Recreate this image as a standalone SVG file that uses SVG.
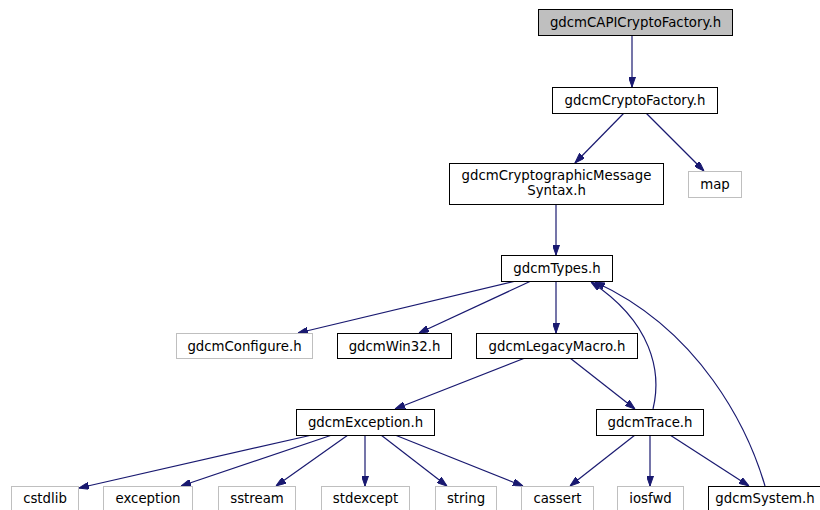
<svg xmlns="http://www.w3.org/2000/svg" width="820" height="510" viewBox="0 0 820 510">
<style>
text{font-family:"DejaVu Sans",sans-serif;font-size:13.3px;fill:#000;text-anchor:middle}
.n rect{fill:#fff;stroke:#000;stroke-width:1}
.g rect{fill:#fff;stroke:#bfbfbf;stroke-width:1}
.root rect{fill:#bfbfbf;stroke:#000;stroke-width:1}
.e path{fill:none;stroke:#191970;stroke-width:1.2;marker-end:url(#a)}
</style>
<defs>
<marker id="a" viewBox="0 0 10 7" refX="10" refY="3.5" markerWidth="10" markerHeight="7" markerUnits="userSpaceOnUse" orient="auto">
<path d="M0,0 L10,3.5 L0,7 z" fill="#191970" stroke="#191970"/>
</marker>
</defs>
<rect width="820" height="510" fill="#fff"/>
<g class="e" id="edges">
<path d="M632,35 L632,87"/>
<path d="M624,113 L575,163"/>
<path d="M646,113 L704,171"/>
<path d="M556,204 L556,255"/>
<path d="M516,281 L298,333"/>
<path d="M531,281 L419,333"/>
<path d="M556,281 L556,333"/>
<path d="M525,358 L395,409"/>
<path d="M570,358 L635,409"/>
<path d="M653,409 C662,372 652,322 591,282"/>
<path d="M765,486 C748,428 700,330 595,282"/>
<path d="M312,435 L79,488"/>
<path d="M332,435 L181,486"/>
<path d="M348,435 L276,486"/>
<path d="M365,435 L365,486"/>
<path d="M381,435 L447,486"/>
<path d="M395,435 L523,486"/>
<path d="M635,435 L570,486"/>
<path d="M650,435 L650,486"/>
<path d="M670,435 L749,486"/>
</g>
<g class="root" id="n1"><rect x="538.5" y="9.5" width="194" height="26"/><text x="635.5" y="27">gdcmCAPICryptoFactory.h</text></g>
<g class="n" id="n2"><rect x="552.5" y="87.5" width="165" height="26"/><text x="635" y="105">gdcmCryptoFactory.h</text></g>
<g class="n" id="n3"><rect x="449.5" y="163.5" width="214" height="41"/><text x="556.5" y="180">gdcmCryptographicMessage</text><text x="556.5" y="195">Syntax.h</text></g>
<g class="g" id="n4"><rect x="688.5" y="171.5" width="53" height="26"/><text x="715" y="189">map</text></g>
<g class="n" id="n5"><rect x="501.5" y="255.5" width="111" height="26"/><text x="557" y="273">gdcmTypes.h</text></g>
<g class="g" id="n6"><rect x="176.5" y="333.5" width="136" height="25"/><text x="244.5" y="350.5">gdcmConfigure.h</text></g>
<g class="n" id="n7"><rect x="337.5" y="333.5" width="114" height="25"/><text x="394.5" y="350.5">gdcmWin32.h</text></g>
<g class="n" id="n8"><rect x="476.5" y="333.5" width="161" height="25"/><text x="557" y="350.5">gdcmLegacyMacro.h</text></g>
<g class="n" id="n9"><rect x="296.5" y="409.5" width="138" height="26"/><text x="365.5" y="427">gdcmException.h</text></g>
<g class="n" id="n10"><rect x="596.5" y="409.5" width="107" height="26"/><text x="650" y="427">gdcmTrace.h</text></g>
<g class="g" id="n11"><rect x="11.5" y="486.5" width="67" height="26"/><text x="45" y="503">cstdlib</text></g>
<g class="g" id="n12"><rect x="103.5" y="486.5" width="89" height="26"/><text x="148" y="503">exception</text></g>
<g class="g" id="n13"><rect x="218.5" y="486.5" width="77" height="26"/><text x="257" y="503">sstream</text></g>
<g class="g" id="n14"><rect x="321.5" y="486.5" width="88" height="26"/><text x="365.5" y="503">stdexcept</text></g>
<g class="g" id="n15"><rect x="435.5" y="486.5" width="61" height="26"/><text x="466" y="503">string</text></g>
<g class="g" id="n16"><rect x="521.5" y="486.5" width="72" height="26"/><text x="557.5" y="503">cassert</text></g>
<g class="g" id="n17"><rect x="617.5" y="486.5" width="66" height="26"/><text x="650.5" y="503">iosfwd</text></g>
<g class="n" id="n18"><rect x="708.5" y="486.5" width="114" height="26"/><text x="765" y="503">gdcmSystem.h</text></g>
</svg>
